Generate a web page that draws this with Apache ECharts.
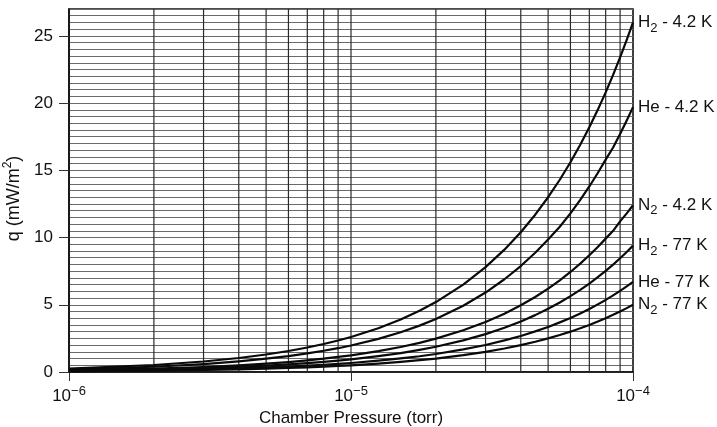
<!DOCTYPE html>
<html>
<head>
<meta charset="utf-8">
<script src="https://cdn.jsdelivr.net/npm/echarts@6/dist/echarts.min.js"></script>
<style>
  html, body { margin: 0; padding: 0; background: #fff; }
  #chart { width: 717px; height: 427px; }
</style>
</head>
<body>
<div id="chart"></div>
<script>
// Chamber pressure (torr)
var pressures = [1e-6, 2e-6, 3e-6, 4e-6, 5e-6, 6e-6, 7e-6, 8e-6, 9e-6,
                 1e-5, 1.25e-5, 1.5e-5, 1.75e-5, 2e-5, 2.5e-5, 3e-5, 3.5e-5,
                 4e-5, 4.5e-5, 5e-5, 5.5e-5, 6e-5, 6.5e-5, 7e-5, 7.5e-5,
                 8e-5, 8.5e-5, 9e-5, 9.5e-5, 1e-4];

// Heat flux q (mW/m^2) for each gas / temperature
var h2_42 = [0.26, 0.52, 0.78, 1.04, 1.30, 1.56, 1.82, 2.08, 2.34,
             2.60, 3.25, 3.90, 4.55, 5.20, 6.50, 7.80, 9.10,
             10.4, 11.7, 13.0, 14.3, 15.6, 16.9, 18.2, 19.5,
             20.8, 22.1, 23.4, 24.7, 26.0];
var he_42 = [0.20, 0.39, 0.59, 0.79, 0.99, 1.18, 1.38, 1.58, 1.77,
             1.97, 2.46, 2.96, 3.45, 3.94, 4.93, 5.91, 6.90,
             7.88, 8.87, 9.85, 10.8, 11.8, 12.8, 13.8, 14.8,
             15.8, 16.7, 17.7, 18.7, 19.7];
var n2_42 = [0.12, 0.25, 0.37, 0.50, 0.62, 0.74, 0.87, 0.99, 1.12,
             1.24, 1.55, 1.86, 2.17, 2.48, 3.10, 3.72, 4.34,
             4.96, 5.58, 6.20, 6.82, 7.44, 8.06, 8.68, 9.30,
             9.92, 10.5, 11.2, 11.8, 12.4];
var h2_77 = [0.09, 0.19, 0.28, 0.38, 0.47, 0.56, 0.66, 0.75, 0.85,
             0.94, 1.18, 1.41, 1.65, 1.88, 2.35, 2.82, 3.29,
             3.76, 4.23, 4.70, 5.17, 5.64, 6.11, 6.58, 7.05,
             7.52, 7.99, 8.46, 8.93, 9.40];
var he_77 = [0.07, 0.13, 0.20, 0.27, 0.34, 0.40, 0.47, 0.54, 0.60,
             0.67, 0.84, 1.01, 1.17, 1.34, 1.68, 2.01, 2.35,
             2.68, 3.02, 3.35, 3.69, 4.02, 4.36, 4.69, 5.03,
             5.36, 5.70, 6.03, 6.37, 6.70];
var n2_77 = [0.05, 0.10, 0.15, 0.20, 0.25, 0.30, 0.35, 0.40, 0.45,
             0.50, 0.63, 0.75, 0.88, 1.00, 1.25, 1.50, 1.75,
             2.00, 2.25, 2.50, 2.75, 3.00, 3.25, 3.50, 3.75,
             4.00, 4.25, 4.50, 4.75, 5.00];

// Curve labels: [gas, subscript, temperature]
var curveNames = [
  ['H', '2', ' - 4.2 K'],
  ['He', '', ' - 4.2 K'],
  ['N', '2', ' - 4.2 K'],
  ['H', '2', ' - 77 K'],
  ['He', '', ' - 77 K'],
  ['N', '2', ' - 77 K']
];
var curveValues = [h2_42, he_42, n2_42, h2_77, he_77, n2_77];

// Axis ticks and log-paper rules
var yTicks = [0, 5, 10, 15, 20, 25];
var yRange = [0, 27];
var xMinorLines = [2e-6, 3e-6, 4e-6, 5e-6, 6e-6, 7e-6, 8e-6, 9e-6,
                   1e-5, 2e-5, 3e-5, 4e-5, 5e-5, 6e-5, 7e-5, 8e-5, 9e-5];

var FONT = 'Liberation Sans, Arial, sans-serif';
var INK = '#111';

function pairs(vals) {
  return pressures.map(function (p, i) { return [p, vals[i]]; });
}

var series = [];

// vertical rules of the semi-log paper, placed through the log axis
xMinorLines.forEach(function (p) {
  series.push({
    type: 'line',
    data: [[p, yRange[0]], [p, yRange[1]]],
    silent: true,
    showSymbol: false,
    symbol: 'none',
    z: 1,
    lineStyle: { color: '#2a2a2a', width: 1.2 },
    emphasis: { disabled: true }
  });
});

curveValues.forEach(function (vals, i) {
  var nm = curveNames[i];
  series.push({
    type: 'line',
    name: nm.join(''),
    data: pairs(vals),
    showSymbol: false,
    symbol: 'none',
    z: 5,
    lineStyle: { color: '#0a0a0a', width: 2.2, join: 'round' },
    endLabel: {
      show: true,
      distance: 5,
      formatter: function () {
        return '{b|' + nm[0] + '}' + (nm[1] ? '{s|' + nm[1] + '}' : '') + '{b|' + nm[2] + '}';
      },
      rich: {
        b: { fontSize: 17, fontFamily: FONT, color: INK, lineHeight: 24, verticalAlign: 'middle' },
        s: { fontSize: 13, fontFamily: FONT, color: INK, lineHeight: 13, verticalAlign: 'bottom' }
      }
    }
  });
});

var chart = echarts.init(document.getElementById('chart'), null, { renderer: 'canvas' });
chart.setOption({
  backgroundColor: '#ffffff',
  animation: false,
  grid: {
    left: 69, right: 84, top: 9, bottom: 55,
    containLabel: false,
    outerBoundsMode: 'none',
    show: true,
    borderColor: INK,
    borderWidth: 1.6,
    backgroundColor: 'transparent'
  },
  xAxis: {
    type: 'log',
    logBase: 10,
    min: 1e-6,
    max: 1e-4,
    name: 'Chamber Pressure (torr)',
    nameLocation: 'middle',
    nameGap: 30,
    nameTextStyle: { fontSize: 17, fontFamily: FONT, color: INK },
    axisLine: { show: true, lineStyle: { color: INK, width: 1.6 } },
    axisTick: { show: true, length: 9, lineStyle: { color: '#333', width: 1 } },
    axisLabel: {
      margin: 13,
      formatter: function (v) {
        var e = Math.round(Math.log10(v));
        return '{b|10}{s|−' + Math.abs(e) + '}';
      },
      rich: {
        b: { fontSize: 17, fontFamily: FONT, color: INK, lineHeight: 20, verticalAlign: 'bottom' },
        s: { fontSize: 13, fontFamily: FONT, color: INK, lineHeight: 13, verticalAlign: 'top' }
      }
    },
    splitLine: { show: false }
  },
  yAxis: [{
    type: 'value',
    min: yRange[0],
    max: yRange[1],
    interval: 0.5,
    axisLine: { show: false },
    axisTick: { show: false },
    axisLabel: { show: false },
    splitLine: { show: true, lineStyle: { color: '#6a6a6a', width: 1.2 } }
  }, {
    type: 'value',
    position: 'left',
    min: yRange[0],
    max: yRange[1],
    interval: 5,
    name: '{b|q (mW/m}{s|2}{b|)}',
    nameLocation: 'middle',
    nameGap: 40,
    nameRotate: 90,
    nameTextStyle: {
      padding: [0, 16, 0, 0],
      rich: {
        b: { fontSize: 18, fontFamily: FONT, color: INK, lineHeight: 22, verticalAlign: 'bottom' },
        s: { fontSize: 12, fontFamily: FONT, color: INK, lineHeight: 12, verticalAlign: 'top' }
      }
    },
    axisLine: { show: true, lineStyle: { color: INK, width: 1.6 } },
    axisTick: { show: true, length: 10, customValues: yTicks, lineStyle: { color: '#333', width: 1 } },
    axisLabel: { margin: 16, customValues: yTicks, fontSize: 17, fontFamily: FONT, color: INK },
    splitLine: { show: false }
  }],
  series: series
});
</script>
</body>
</html>
